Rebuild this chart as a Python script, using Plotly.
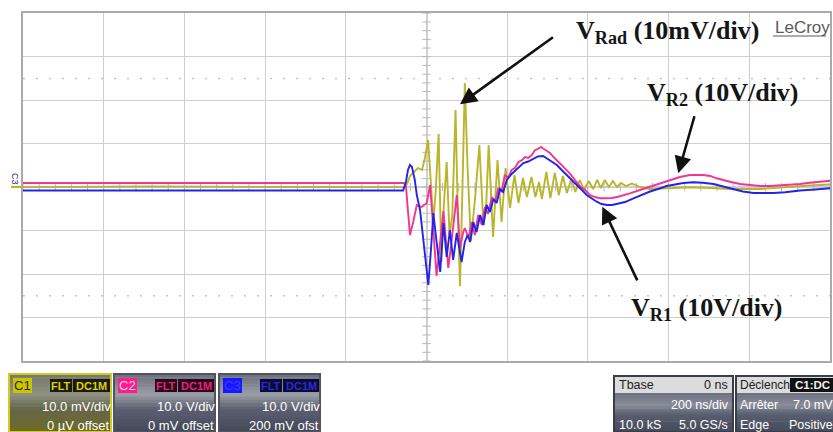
import numpy as np
import plotly.graph_objects as go

W, H = 833, 432

# ---- acquired waveforms: time in ns (200 ns/div), C1 in mV, C2/C3 in V ----
c1_t = [-1000, -685, -314, -56, -48, -41, -31, -21, -11, -4, 4, 11, 17, 23, 30, 37, 43, 50, 57, 64,
        72, 78, 83, 89, 95, 102, 110, 120, 131, 141, 148, 154, 165, 176, 186, 196, 207, 218, 228, 239,
        249, 260, 270, 279, 286, 297, 307, 318, 328, 338, 348, 359, 369, 380, 390, 402, 413, 423, 432,
        442, 452, 462, 472, 482, 494, 509, 529, 554, 603, 653, 703, 752, 826, 901, 950, 1000]
c1_v = [0.0, 0.15, 0.03, 0.0, 0.72, 2.57, 3.49, 4.41, 3.95, 6.71, 10.85, 0.49, -8.02, -0.66, 12.23,
        -17.22, -4.11, 5.79, -11.01, -6.41, 17.75, -7.56, -22.74, -0.66, 23.96, 3.95, -12.39, -2.96,
        9.70, -8.71, -4.11, 9.70, -11.47, 6.25, -8.02, 4.41, -4.80, 2.80, -3.65, 2.11, -2.26, 2.34,
        -2.26, 1.18, -2.73, 3.49, -2.50, 3.26, -1.81, 2.57, -1.35, 1.88, -1.12, 1.65, -0.66, 1.42,
        -0.43, 1.65, -0.20, 1.65, 0.03, 1.42, 0.03, 0.95, 0.26, 0.84, 0.03, -0.43, -0.20, -0.03,
        -0.20, -0.43, -0.43, 0.15, 0.38, 0.61]

c2_t = [-1000, -685, -314, -56, -51, -46, -41, -33, -24, -12, 0.5, 9, 17, 25, 33, 42, 48, 54, 61, 66,
        75, 83, 91, 95, 104, 112, 120, 128, 137, 145, 152, 162, 170, 178, 186, 194, 202, 211, 219,
        228, 237, 244, 252, 261, 269, 276, 284, 289, 294, 306, 318, 331, 343, 356, 368, 380, 393,
        405, 418, 430, 442, 460, 475, 492, 504, 529, 554, 579, 603, 628, 653, 685, 703, 719, 752,
        777, 802, 827, 851, 876, 901, 926, 950, 975, 1000]
c2_v = [0.95, 0.95, 0.89, 0.95, 0.26, -5.26, -11.01, -8.02, -4.11, -4.57, -3.65, 0.49, -10.32,
        -20.44, -13.31, -5.49, -12.16, -18.60, -13.31, -8.71, -1.81, -14.00, -10.32, -9.40, -11.70,
        -8.02, -11.01, -6.41, -8.71, -4.57, -6.18, -2.27, -3.42, -0.20, -1.12, 2.80, 2.11, 3.95,
        4.41, 5.79, 6.25, 6.94, 6.71, 7.40, 8.55, 8.78, 9.24, 8.89, 8.55, 7.86, 6.64, 5.56, 4.34,
        3.03, 1.65, 0.26, -0.66, -1.81, -2.27, -2.57, -2.57, -2.50, -2.20, -1.81, -1.42, -0.66,
        0.10, 0.95, 1.65, 2.34, 2.80, 2.80, 2.57, 2.04, 1.25, 0.72, 0.49, 0.26, 0.26, 0.38, 0.49,
        0.72, 1.02, 1.30, 1.48]

c3_t = [-1000, -685, -314, -58, -51, -46, -41, -36, -29, -24, -16, -9, -4, 4.5, 11, 17, 23, 29, 34,
        42, 50, 58, 66, 75, 82, 87, 95, 102, 108, 116, 124, 133, 141, 149, 157, 166, 174, 182, 190,
        199, 211, 228, 240, 252, 265, 276, 289, 298, 309, 323, 335, 348, 360, 372, 385, 397, 409,
        422, 434, 447, 460, 472, 492, 513, 532, 554, 574, 595, 616, 636, 661, 685, 711, 735, 760,
        784, 810, 834, 860, 889, 926, 963, 1000]
c3_v = [-0.77, -0.77, -0.82, -0.77, 1.18, 3.95, 5.10, 4.64, 1.65, -1.81, -5.26, -11.01, -14.46,
        -22.52, -14.46, -5.95, -11.01, -15.61, -19.52, -8.25, -16.07, -9.86, -16.76, -10.55,
        -14.46, -17.22, -12.62, -11.01, -12.62, -8.02, -10.32, -6.41, -8.71, -4.11, -5.72, -2.73,
        -3.65, -0.43, -1.12, 1.65, 3.03, 4.41, 5.56, 5.90, 6.59, 7.05, 7.17, 6.64, 5.90, 5.10,
        3.95, 2.80, 1.65, 0.49, -0.66, -1.81, -2.61, -3.35, -3.88, -4.11, -4.11, -3.88, -3.42,
        -2.57, -1.81, -1.00, -0.43, 0.26, 0.61, 0.95, 1.12, 1.02, 0.72, 0.15, -0.54, -1.00, -1.35,
        -1.42, -1.35, -1.18, -0.77, -0.54, -0.26]

YELLOW, PINK, BLUE = "#b9b52c", "#f2358f", "#2424e6"
GRID = "#cfcfcf"


def px(x, y):
    """Pixel position on the page -> paper coordinates."""
    return x / W, 1 - y / H


fig = go.Figure()

# graticule: minor ticks along the centre axes
ty = np.arange(-40, 40.01, 2)
tx = np.arange(-1000, 1000.1, 40)
fig.add_trace(go.Scatter(x=np.zeros_like(ty), y=ty, mode="markers", hoverinfo="skip",
                         marker=dict(symbol="line-ew", size=6, line=dict(color="#b8b8b8", width=1))))
fig.add_trace(go.Scatter(x=tx, y=np.zeros_like(tx), mode="markers", hoverinfo="skip",
                         marker=dict(symbol="line-ns", size=6, line=dict(color="#b8b8b8", width=1))))

for t, v, c in [(c1_t, c1_v, YELLOW), (c2_t, c2_v, PINK), (c3_t, c3_v, BLUE)]:
    fig.add_trace(go.Scatter(x=t, y=v, mode="lines", hoverinfo="skip",
                             line=dict(color=c, width=1.9)))

shapes = []
# dotted cursor levels
for lvl in (25, -25):
    shapes.append(dict(type="line", xref="x", yref="y", x0=-1000, x1=1000, y0=lvl, y1=lvl,
                       line=dict(color="#c4c4c4", width=1.5, dash="2px,11px")))


def rect(x0, y0, x1, y1, fill, line=None, lw=0):
    a0, b0 = px(x0, y0)
    a1, b1 = px(x1, y1)
    shapes.append(dict(type="rect", xref="paper", yref="paper", x0=a0, x1=a1, y0=b0, y1=b1,
                       fillcolor=fill, line=dict(color=line or fill, width=lw), layer="above"))


def hexmix(c1, c2, f):
    a = [int(c1[i:i + 2], 16) for i in (1, 3, 5)]
    b = [int(c2[i:i + 2], 16) for i in (1, 3, 5)]
    return "#" + "".join(f"{round(p + (q - p) * f):02x}" for p, q in zip(a, b))


def gradient(x0, y0, x1, y1, stops, n=18):
    """Vertical gradient built from thin bands."""
    h = (y1 - y0) / n
    for i in range(n):
        f = i / (n - 1)
        for j in range(len(stops) - 1):
            if stops[j][0] <= f <= stops[j + 1][0]:
                g = (f - stops[j][0]) / (stops[j + 1][0] - stops[j][0])
                col = hexmix(stops[j][1], stops[j + 1][1], g)
                break
        rect(x0, y0 + i * h, x1, y0 + (i + 1) * h + 0.6, col)


ann = []


def label(x, y, text, size=12.5, color="white", anchor="right", bold=False, family="Liberation Sans"):
    a, b = px(x, y)
    ann.append(dict(x=a, y=b, xref="paper", yref="paper", text=f"<b>{text}</b>" if bold else text,
                    showarrow=False, xanchor=anchor, yanchor="middle",
                    font=dict(family=family, size=size, color=color)))


# channel descriptor panels
panels = [
    (9, 111, "C1", "#ccc400", "#2b2a00", "#1c1b08", "#d6cf1c", "10.0 mV/div", "0 µV offset",
     [(0, "#77796c"), (0.35, "#8f9182"), (0.6, "#66664a"), (1, "#6e6a28")]),
    (114, 215, "C2", "#ff1d8e", "#ffd0e6", "#2a0a1a", "#e8207c", "10.0 V/div", "0 mV offset",
     [(0, "#6f727d"), (0.35, "#9a9ea8"), (0.6, "#5c6070"), (1, "#454a5a")]),
    (219, 320, "C3", "#1818ff", "#3a3aff", "#0a0a36", "#2a2ad0", "10.0 V/div", "200 mV ofst",
     [(0, "#6f727d"), (0.35, "#9a9ea8"), (0.6, "#5c6070"), (1, "#454a5a")]),
]
for x0, x1, name, tagbg, tagfg, boxbg, boxfg, l1, l2, stops in panels:
    gradient(x0, 374, x1, 432, stops)
    border = "#d0cb20" if name == "C1" else "#50545f"
    shapes.append(dict(type="rect", xref="paper", yref="paper", x0=px(x0, 0)[0], x1=px(x1, 0)[0],
                       y0=px(0, 432)[1], y1=px(0, 374)[1], line=dict(color=border, width=2),
                       fillcolor="rgba(0,0,0,0)", layer="above"))
    rect(x0 + 4, 378, x0 + 23, 393, tagbg)
    label(x0 + 13.5, 385.5, name, size=13, color=tagfg, anchor="center")
    rect(x0 + 41, 379, x0 + 63, 392, boxbg)
    rect(x0 + 64, 379, x1 - 1, 392, boxbg)
    label(x0 + 52, 385.5, "FLT", size=11, color=boxfg, anchor="center", bold=True)
    label((x0 + 64 + x1 - 1) / 2, 385.5, "DC1M", size=11, color=boxfg, anchor="center", bold=True)
    label(x1 + 2, 406, l1, size=13)
    label(x1 + 1, 425, l2, size=13)

# timebase panel
gradient(614, 393, 733, 432, [(0, "#6c7080"), (0.3, "#8a8e9a"), (0.55, "#5a5f70"), (1, "#464b5c")])
rect(614, 376, 733, 393, "#dcdcdc")
shapes.append(dict(type="rect", xref="paper", yref="paper", x0=px(614, 0)[0], x1=px(733, 0)[0],
                   y0=px(0, 432)[1], y1=px(0, 376)[1], line=dict(color="#3a3e48", width=2),
                   fillcolor="rgba(0,0,0,0)", layer="above"))
label(617, 385, "Tbase", color="#222222", anchor="left")
label(730, 385, "0 ns", color="#222222")
label(731, 405, "200 ns/div")
label(617, 425, "10.0 kS", anchor="left")
label(730, 425, "5.0 GS/s")

# trigger panel
gradient(736, 393, 833, 432, [(0, "#6c7080"), (0.3, "#8a8e9a"), (0.55, "#5a5f70"), (1, "#464b5c")])
rect(736, 376, 833, 393, "#dcdcdc")
shapes.append(dict(type="rect", xref="paper", yref="paper", x0=px(736, 0)[0], x1=px(834, 0)[0],
                   y0=px(0, 432)[1], y1=px(0, 376)[1], line=dict(color="#3a3e48", width=2),
                   fillcolor="rgba(0,0,0,0)", layer="above"))
label(738, 385, "Déclench", size=12, color="#222222", anchor="left")
rect(790, 378, 833, 392, "#111111")
label(812, 385, "C1:DC", size=11.5, color="#f0f0f0", anchor="center", bold=True)
label(738, 405, "Arrêter", anchor="left")
label(835, 405, "7.0 mV")
label(738, 425, "Edge", anchor="left")
label(835, 425, "Positive")

# trace annotations
SERIF = "Liberation Serif"
for x, y, txt in [(574, 32, "V<sub>Rad</sub> (10mV/div)"),
                  (645, 94, "V<sub>R2</sub> (10V/div)"),
                  (629, 309, "V<sub>R1</sub> (10V/div)")]:
    a, b = px(x, y)
    ann.append(dict(x=a, y=b, xref="paper", yref="paper", text=f"<b>{txt}</b>", showarrow=False,
                    xanchor="left", yanchor="middle", font=dict(family=SERIF, size=26, color="#151515")))

# arrows pointing at each trace
for t, v, ax, ay in [(83.0, 19.1, 96, -69), (624.0, 3.2, 19, -67), (435.7, -4.5, 38, 80)]:
    ann.append(dict(x=t, y=v, xref="x", yref="y", ax=ax, ay=ay, text=" ", showarrow=True,
                    arrowhead=2, arrowsize=1.3, arrowwidth=2.6, arrowcolor="#111111"))

# maker's logo
label(773, 27, "LeCroy", size=17, color="#5a5a5a", anchor="left")
a0, b0 = px(773, 36)
a1, _ = px(826, 36)
shapes.append(dict(type="line", xref="paper", yref="paper", x0=a0, x1=a1, y0=b0, y1=b0,
                   line=dict(color="#5a5a5a", width=1.2)))

# ground marker at the left edge
label(15, 179, "C3", size=9, color="#2a2a7a", anchor="center")
ann[-1]["textangle"] = 90
a0, b0 = px(11, 187)
a1, _ = px(23, 187)
shapes.append(dict(type="line", xref="paper", yref="paper", x0=a0, x1=a1, y0=b0, y1=b0,
                   line=dict(color=YELLOW, width=2)))

fig.update_layout(
    width=W, height=H, margin=dict(l=0, r=0, t=0, b=0),
    paper_bgcolor="white", plot_bgcolor="white", showlegend=False,
    xaxis=dict(domain=[23 / W, 830 / W], range=[-1000, 1000], dtick=200, tick0=-1000,
               showgrid=True, gridcolor=GRID, gridwidth=1, zeroline=True, zerolinecolor=GRID,
               showticklabels=False, ticks="", showline=True, linecolor="#aaaaaa", linewidth=2,
               mirror=True, fixedrange=True),
    yaxis=dict(domain=[1 - 361 / H, 1 - 13.3 / H], range=[-40, 40], dtick=10, tick0=-40,
               showgrid=True, gridcolor=GRID, gridwidth=1, zeroline=True, zerolinecolor=GRID,
               showticklabels=False, ticks="", showline=True, linecolor="#aaaaaa", linewidth=2,
               mirror=True, fixedrange=True),
    shapes=shapes, annotations=ann,
)

fig.write_html("out.html")
